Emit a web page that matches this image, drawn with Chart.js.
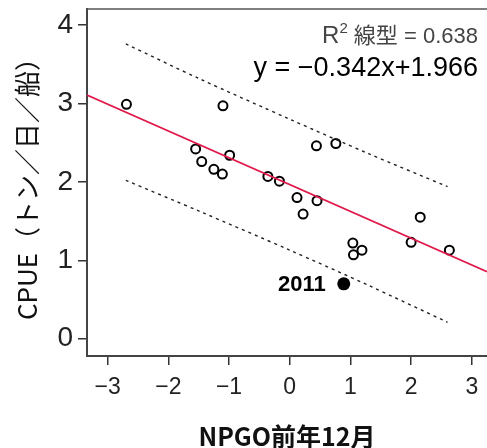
<!DOCTYPE html>
<html>
<head>
<meta charset="utf-8">
<script src="https://cdn.jsdelivr.net/npm/chart.js@4"></script>
<style>
  html, body { margin: 0; padding: 0; background: #fff; overflow: hidden; }
  #wrap { width: 487px; height: 448px; }
</style>
</head>
<body>
<div id="wrap"><canvas id="plot"></canvas></div>
<script>
// observed points (NPGO previous December vs CPUE)
const npgo = [-2.69, -1.10, 0.44, 0.76, -1.55, -0.99, -1.45, -1.25, -1.11, -0.36,
              -0.17, 0.12, 0.45, 0.22, 2.15, 1.04, 1.19, 1.05, 2.00, 2.63];
const cpue = [2.99, 2.97, 2.46, 2.49, 2.42, 2.34, 2.26, 2.16, 2.10, 2.07,
              2.01, 1.80, 1.76, 1.59, 1.55, 1.22, 1.13, 1.07, 1.23, 1.13];

// the 2011 point
const x2011 = [0.89];
const y2011 = [0.70];

// fitted line y = -0.342x + 1.966, drawn edge to edge
const fitX = [-3.34, 3.25];
const fitY = [3.108, 0.855];

// prediction interval bands
const bandX = [-2.7, -1.5, 0, 1.3, 2.6];
const upperBand = [3.76, 3.32, 2.80, 2.36, 1.94];
const lowerBand = [2.02, 1.63, 1.13, 0.68, 0.21];

const xTicks = [-3, -2, -1, 0, 1, 2, 3];
const yTicks = [0, 1, 2, 3, 4];

function pts(xs, ys) {
    return xs.map((x, i) => ({x: x, y: ys[i]}));
}

const minus = v => String(v).replace('-', '\u2212');

// frame + text labels
const extras = {
    id: 'extras',
    beforeDatasetsDraw(chart) {
        const {ctx, chartArea: a} = chart;
        ctx.save();
        ctx.strokeStyle = '#555';
        ctx.lineWidth = 1.5;
        ctx.beginPath();
        ctx.moveTo(a.left, a.top);
        ctx.lineTo(a.right + 2, a.top);
        ctx.stroke();
        ctx.restore();
    },
    afterDatasetsDraw(chart) {
        const {ctx, chartArea: a, scales} = chart;
        ctx.save();
        // R squared
        ctx.fillStyle = '#444';
        ctx.textBaseline = 'alphabetic';
        ctx.textAlign = 'right';
        ctx.font = '22px "Liberation Sans", "Noto Sans CJK JP"';
        const right = a.right - 9;
        const rest = ' 線型 = 0.638';
        ctx.fillText(rest, right, 43);
        let w = ctx.measureText(rest).width;
        ctx.font = '15px "Liberation Sans"';
        ctx.fillText('2', right - w, 33);
        w += ctx.measureText('2').width;
        ctx.font = '24px "Liberation Sans"';
        ctx.fillText('R', right - w, 43);
        // equation
        ctx.fillStyle = '#000';
        ctx.font = '27px "Liberation Sans"';
        ctx.fillText('y = \u22120.342x+1.966', right, 76);
        // 2011 label
        ctx.font = 'bold 22px "Liberation Sans"';
        ctx.textBaseline = 'middle';
        ctx.fillText('2011', scales.x.getPixelForValue(x2011[0]) - 18, scales.y.getPixelForValue(y2011[0]) + 1);
        ctx.restore();
    }
};

const ctx = document.getElementById('plot').getContext('2d');
const chart = new Chart(ctx, {
    type: 'scatter',
    data: {
        datasets: [
            {
                type: 'line',
                data: pts(fitX, fitY),
                borderColor: '#e0194a',
                borderWidth: 1.6,
                pointRadius: 0,
                fill: false
            },
            {
                type: 'line',
                data: pts(bandX, upperBand),
                borderColor: '#222',
                borderWidth: 1.4,
                borderDash: [3, 4],
                pointRadius: 0,
                tension: 0.3,
                fill: false
            },
            {
                type: 'line',
                data: pts(bandX, lowerBand),
                borderColor: '#222',
                borderWidth: 1.4,
                borderDash: [3, 4],
                pointRadius: 0,
                tension: 0.3,
                fill: false
            },
            {
                data: pts(npgo, cpue),
                pointRadius: 4.5,
                pointBorderWidth: 2,
                pointBorderColor: '#000',
                pointBackgroundColor: '#fff'
            },
            {
                data: pts(x2011, y2011),
                pointRadius: 6.5,
                pointBorderWidth: 0,
                pointBackgroundColor: '#000'
            }
        ]
    },
    options: {
        responsive: true,
        maintainAspectRatio: false,
        animation: false,
        layout: { autoPadding: false, padding: { top: 9, right: 0, left: 0, bottom: 0 } },
        plugins: { legend: { display: false }, tooltip: { enabled: false } },
        scales: {
            x: {
                type: 'linear',
                min: -3.34,
                max: 3.25,
                afterBuildTicks: s => { s.ticks = xTicks.map(v => ({value: v})); },
                afterFit: s => { s.height = 92; s.paddingLeft = 0; s.paddingRight = 0; },
                grid: { drawOnChartArea: false, tickLength: 9, color: '#333', lineWidth: 1.5 },
                border: { color: '#444', width: 2 },
                ticks: {
                    color: '#222',
                    padding: 9,
                    maxRotation: 0,
                    font: { family: '"Liberation Sans"', size: 23 },
                    callback: v => minus(v)
                },
                title: {
                    display: true,
                    text: 'NPGO前年12月',
                    color: '#111',
                    padding: { top: 0, bottom: 0 },
                    font: { family: '"Noto Sans CJK JP"', size: 25, weight: 'bold', lineHeight: 0.9 }
                }
            },
            y: {
                min: -0.22,
                max: 4.205,
                afterBuildTicks: s => { s.ticks = yTicks.map(v => ({value: v})); },
                afterFit: s => { s.width = 87; s.paddingTop = 0; s.paddingBottom = 0; },
                grid: { drawOnChartArea: false, tickLength: 9, color: '#333', lineWidth: 1.5 },
                border: { color: '#444', width: 2 },
                ticks: {
                    color: '#222',
                    padding: 5,
                    font: { family: '"Liberation Sans"', size: 28 }
                },
                title: {
                    display: true,
                    text: 'CPUE（トン／日／船）',
                    color: '#111',
                    padding: { top: 12, bottom: 0 },
                    font: { family: '"Noto Sans CJK JP"', size: 26 }
                }
            }
        }
    },
    plugins: [extras]
});
</script>
</body>
</html>
